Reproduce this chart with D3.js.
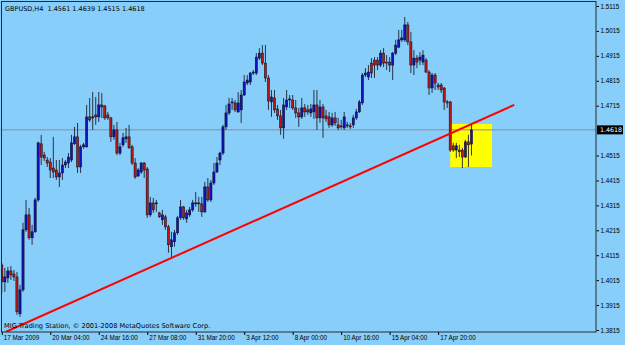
<!DOCTYPE html>
<html>
<head>
<meta charset="utf-8">
<script src="https://cdnjs.cloudflare.com/ajax/libs/d3/7.8.5/d3.min.js"></script>
<style>
  html, body { margin: 0; padding: 0; background: #87cefa; }
  svg { display: block; font-family: "DejaVu Sans", sans-serif; }
  .axis text { fill: #000; font-size: 6.3px; }
  .axis line { stroke: #000; }
  .axis path { display: none; }
</style>
</head>
<body>
<svg id="chart"></svg>
<script>
// GBPUSD H4 candles (bar 0 = 17 Mar 2009 12:00)
const symbol = 'GBPUSD,H4';
const copyright = 'MIG Trading Station, \u00a9 2001-2008 MetaQuotes Software Corp.';

const opens = [
  1.4076, 1.4008, 1.4024, 1.4052, 1.4040, 1.4028, 1.3880, 1.3976, 1.4217, 1.4277,
  1.4185, 1.4209, 1.4337, 1.4562, 1.4517, 1.4497, 1.4489, 1.4465, 1.4457, 1.4429,
  1.4445, 1.4477, 1.4485, 1.4497, 1.4562, 1.4590, 1.4469, 1.4550, 1.4550, 1.4670,
  1.4666, 1.4678, 1.4670, 1.4718, 1.4714, 1.4678, 1.4666, 1.4590, 1.4618, 1.4525,
  1.4558, 1.4582, 1.4590, 1.4550, 1.4485, 1.4433, 1.4449, 1.4485, 1.4461, 1.4277,
  1.4325, 1.4321, 1.4285, 1.4257, 1.4269, 1.4229, 1.4149, 1.4169, 1.4205, 1.4265,
  1.4309, 1.4261, 1.4277, 1.4297, 1.4321, 1.4325, 1.4321, 1.4289, 1.4389, 1.4337,
  1.4405, 1.4449, 1.4497, 1.4525, 1.4630, 1.4686, 1.4726, 1.4726, 1.4690, 1.4698,
  1.4758, 1.4806, 1.4810, 1.4846, 1.4846, 1.4906, 1.4926, 1.4886, 1.4826, 1.4730,
  1.4746, 1.4702, 1.4674, 1.4626, 1.4710, 1.4738, 1.4738, 1.4706, 1.4686, 1.4670,
  1.4706, 1.4698, 1.4686, 1.4690, 1.4718, 1.4666, 1.4710, 1.4674, 1.4670, 1.4638,
  1.4666, 1.4638, 1.4634, 1.4626, 1.4638, 1.4634, 1.4638, 1.4666, 1.4690, 1.4726,
  1.4838, 1.4830, 1.4886, 1.4898, 1.4898, 1.4878, 1.4926, 1.4890, 1.4890, 1.4878,
  1.4926, 1.4950, 1.4979, 1.4979, 1.5039, 1.4971, 1.4878, 1.4906, 1.4898, 1.4890,
  1.4898, 1.4850, 1.4786, 1.4838, 1.4798, 1.4798, 1.4786, 1.4730, 1.4730, 1.4554,
  1.4537, 1.4537, 1.4537, 1.4509, 1.4570, 1.4561
];
const highs = [
  1.4084, 1.4064, 1.4068, 1.4072, 1.4056, 1.4048, 1.3996, 1.4245, 1.4337, 1.4305,
  1.4237, 1.4345, 1.4570, 1.4598, 1.4530, 1.4509, 1.4505, 1.4590, 1.4497, 1.4497,
  1.4505, 1.4497, 1.4525, 1.4598, 1.4630, 1.4646, 1.4558, 1.4566, 1.4718, 1.4746,
  1.4770, 1.4750, 1.4770, 1.4766, 1.4718, 1.4690, 1.4670, 1.4638, 1.4650, 1.4566,
  1.4606, 1.4626, 1.4638, 1.4558, 1.4505, 1.4465, 1.4489, 1.4489, 1.4469, 1.4349,
  1.4345, 1.4337, 1.4289, 1.4297, 1.4277, 1.4237, 1.4209, 1.4217, 1.4273, 1.4337,
  1.4313, 1.4297, 1.4309, 1.4337, 1.4369, 1.4349, 1.4349, 1.4409, 1.4425, 1.4417,
  1.4485, 1.4509, 1.4530, 1.4638, 1.4718, 1.4746, 1.4746, 1.4738, 1.4770, 1.4778,
  1.4838, 1.4838, 1.4850, 1.4858, 1.4926, 1.4946, 1.4958, 1.4958, 1.4838, 1.4778,
  1.4778, 1.4718, 1.4698, 1.4746, 1.4778, 1.4758, 1.4758, 1.4738, 1.4706, 1.4746,
  1.4722, 1.4718, 1.4722, 1.4778, 1.4778, 1.4738, 1.4722, 1.4698, 1.4690, 1.4686,
  1.4690, 1.4666, 1.4658, 1.4690, 1.4650, 1.4646, 1.4678, 1.4702, 1.4738, 1.4846,
  1.4866, 1.4878, 1.4906, 1.4910, 1.4910, 1.4938, 1.4946, 1.4918, 1.4910, 1.4930,
  1.4979, 1.5019, 1.5019, 1.5071, 1.5051, 1.5011, 1.4938, 1.4918, 1.4930, 1.4938,
  1.4906, 1.4858, 1.4846, 1.4846, 1.4806, 1.4806, 1.4790, 1.4738, 1.4734, 1.4566,
  1.4566, 1.4558, 1.4546, 1.4578, 1.4598, 1.4639
];
const lows = [
  1.3964, 1.3968, 1.4004, 1.4016, 1.4012, 1.3876, 1.3868, 1.3968, 1.4209, 1.4177,
  1.4157, 1.4205, 1.4329, 1.4477, 1.4493, 1.4469, 1.4425, 1.4425, 1.4417, 1.4389,
  1.4417, 1.4465, 1.4465, 1.4489, 1.4558, 1.4445, 1.4445, 1.4542, 1.4546, 1.4650,
  1.4618, 1.4638, 1.4650, 1.4666, 1.4658, 1.4658, 1.4570, 1.4578, 1.4517, 1.4517,
  1.4550, 1.4566, 1.4542, 1.4477, 1.4421, 1.4429, 1.4441, 1.4425, 1.4265, 1.4269,
  1.4285, 1.4289, 1.4265, 1.4237, 1.4217, 1.4125, 1.4108, 1.4149, 1.4197, 1.4257,
  1.4257, 1.4245, 1.4269, 1.4289, 1.4309, 1.4289, 1.4269, 1.4285, 1.4329, 1.4329,
  1.4397, 1.4445, 1.4477, 1.4517, 1.4618, 1.4678, 1.4698, 1.4690, 1.4686, 1.4646,
  1.4754, 1.4798, 1.4798, 1.4838, 1.4838, 1.4898, 1.4878, 1.4810, 1.4698, 1.4670,
  1.4686, 1.4658, 1.4598, 1.4582, 1.4698, 1.4706, 1.4698, 1.4666, 1.4630, 1.4662,
  1.4670, 1.4678, 1.4670, 1.4662, 1.4618, 1.4646, 1.4586, 1.4650, 1.4626, 1.4630,
  1.4634, 1.4618, 1.4622, 1.4618, 1.4626, 1.4622, 1.4626, 1.4658, 1.4686, 1.4718,
  1.4830, 1.4818, 1.4826, 1.4826, 1.4858, 1.4870, 1.4870, 1.4858, 1.4850, 1.4818,
  1.4918, 1.4946, 1.4971, 1.4971, 1.4958, 1.4846, 1.4838, 1.4866, 1.4878, 1.4878,
  1.4846, 1.4758, 1.4766, 1.4778, 1.4778, 1.4766, 1.4698, 1.4706, 1.4530, 1.4530,
  1.4505, 1.4509, 1.4465, 1.4505, 1.4469, 1.4515
];
const closes = [
  1.4008, 1.4028, 1.4052, 1.4036, 1.4028, 1.3888, 1.3976, 1.4217, 1.4277, 1.4185,
  1.4209, 1.4337, 1.4566, 1.4509, 1.4505, 1.4485, 1.4457, 1.4449, 1.4429, 1.4445,
  1.4477, 1.4489, 1.4509, 1.4566, 1.4590, 1.4469, 1.4550, 1.4558, 1.4670, 1.4658,
  1.4670, 1.4670, 1.4718, 1.4710, 1.4666, 1.4666, 1.4590, 1.4618, 1.4525, 1.4550,
  1.4586, 1.4590, 1.4546, 1.4485, 1.4429, 1.4457, 1.4485, 1.4457, 1.4277, 1.4325,
  1.4297, 1.4325, 1.4269, 1.4277, 1.4229, 1.4157, 1.4177, 1.4205, 1.4265, 1.4309,
  1.4265, 1.4285, 1.4297, 1.4325, 1.4325, 1.4321, 1.4289, 1.4389, 1.4337, 1.4405,
  1.4449, 1.4485, 1.4525, 1.4630, 1.4686, 1.4722, 1.4730, 1.4698, 1.4726, 1.4758,
  1.4810, 1.4818, 1.4846, 1.4850, 1.4910, 1.4926, 1.4886, 1.4826, 1.4734, 1.4750,
  1.4698, 1.4674, 1.4626, 1.4718, 1.4738, 1.4742, 1.4706, 1.4686, 1.4670, 1.4706,
  1.4690, 1.4690, 1.4702, 1.4718, 1.4666, 1.4710, 1.4666, 1.4662, 1.4638, 1.4666,
  1.4646, 1.4626, 1.4630, 1.4670, 1.4634, 1.4630, 1.4666, 1.4690, 1.4730, 1.4838,
  1.4846, 1.4850, 1.4846, 1.4878, 1.4878, 1.4926, 1.4886, 1.4886, 1.4878, 1.4926,
  1.4958, 1.4979, 1.4987, 1.5039, 1.4971, 1.4878, 1.4906, 1.4890, 1.4910, 1.4918,
  1.4850, 1.4786, 1.4838, 1.4806, 1.4790, 1.4778, 1.4730, 1.4726, 1.4537, 1.4537,
  1.4554, 1.4530, 1.4509, 1.4570, 1.4558, 1.4618
];

// time scale labels (every 16 bars) and price scale labels
const timeTickBars = [0, 16, 32, 48, 64, 80, 96, 112, 128, 144];
const timeTickLabels = ['17 Mar 2009', '20 Mar 04:00', '24 Mar 16:00', '27 Mar 08:00', '31 Mar 20:00',
                        '3 Apr 12:00', '8 Apr 00:00', '10 Apr 16:00', '15 Apr 04:00', '17 Apr 20:00'];
const priceTicks = [1.5115, 1.5015, 1.4915, 1.4815, 1.4715, 1.4515, 1.4415,
                    1.4315, 1.4215, 1.4115, 1.4015, 1.3915, 1.3815];
const bidPrice = 1.4618;

// drawn objects: trend line and the yellow rectangle
const trendBars = [1.25, 169.1];
const trendPrices = [1.3807, 1.4718];
const boxBars = [148, 161.8];
const boxPrices = [1.4642, 1.4469];

class CandleChart {

  constructor(_config, _bars) {
    this.config = {
      parentElement: _config.parentElement,
      containerWidth: _config.containerWidth || 625,
      containerHeight: _config.containerHeight || 345,
      plot: _config.plot || {left: 2, top: 2, right: 596, bottom: 332},
      bullColor: _config.bullColor || '#1212b8',
      bearColor: _config.bearColor || '#bc1616'
    };
    this.bars = _bars;
    this.initVis();
  }

  initVis() {
    let vis = this;
    const p = vis.config.plot;

    vis.svg = d3.select(vis.config.parentElement)
        .attr('width', vis.config.containerWidth)
        .attr('height', vis.config.containerHeight);

    // bar index -> x, about 3 px per H4 bar
    vis.xScale = d3.scaleLinear()
        .domain([0, 196])
        .range([1.8, 595.7]);

    vis.yScale = d3.scaleLinear()
        .domain([1.3815, 1.5115])
        .range([330, 6]);

    vis.svg.append('rect')
        .attr('width', vis.config.containerWidth)
        .attr('height', vis.config.containerHeight)
        .attr('fill', '#87cefa');

    vis.svg.append('clipPath')
        .attr('id', 'plot-clip')
      .append('rect')
        .attr('x', p.left)
        .attr('y', p.top)
        .attr('width', p.right - p.left)
        .attr('height', p.bottom - p.top);

    vis.plot = vis.svg.append('g')
        .attr('clip-path', 'url(#plot-clip)');

    vis.renderVis();
  }

  renderVis() {
    let vis = this;
    const p = vis.config.plot;
    const fmt = d3.format('.4f');

    // yellow rectangle (behind the candles)
    vis.plot.append('rect')
        .attr('x', vis.xScale(boxBars[0]))
        .attr('y', vis.yScale(boxPrices[0]))
        .attr('width', vis.xScale(boxBars[1]) - vis.xScale(boxBars[0]))
        .attr('height', vis.yScale(boxPrices[1]) - vis.yScale(boxPrices[0]))
        .attr('fill', '#ffff00');

    // bid line
    vis.plot.append('line')
        .attr('x1', p.left).attr('x2', p.right)
        .attr('y1', vis.yScale(bidPrice)).attr('y2', vis.yScale(bidPrice))
        .attr('stroke', '#8e8a96')
        .attr('stroke-width', 1);

    // wicks
    vis.plot.append('g')
      .selectAll('line')
      .data(vis.bars)
      .join('line')
        .attr('x1', d => vis.xScale(d.i))
        .attr('x2', d => vis.xScale(d.i))
        .attr('y1', d => vis.yScale(d.high))
        .attr('y2', d => vis.yScale(d.low))
        .attr('stroke', '#1e2230')
        .attr('stroke-width', 0.9);

    // bodies
    vis.plot.append('g')
      .selectAll('rect')
      .data(vis.bars)
      .join('rect')
        .attr('x', d => vis.xScale(d.i) - 1.1)
        .attr('y', d => vis.yScale(Math.max(d.open, d.close)))
        .attr('width', 2.2)
        .attr('height', d => Math.max(1, Math.abs(vis.yScale(d.open) - vis.yScale(d.close))))
        .attr('fill', d => d.close >= d.open ? vis.config.bullColor : vis.config.bearColor)
        .attr('stroke', '#0c0c18')
        .attr('stroke-width', 0.5);

    // trend line
    vis.plot.append('line')
        .attr('x1', vis.xScale(trendBars[0]))
        .attr('y1', vis.yScale(trendPrices[0]))
        .attr('x2', vis.xScale(trendBars[1]))
        .attr('y2', vis.yScale(trendPrices[1]))
        .attr('stroke', '#ff0000')
        .attr('stroke-width', 2);

    // frame
    vis.svg.append('rect')
        .attr('x', p.left - 0.5)
        .attr('y', p.top - 0.5)
        .attr('width', p.right - p.left + 0.5)
        .attr('height', p.bottom - p.top + 0.5)
        .attr('fill', 'none')
        .attr('stroke', '#2a2a2a')
        .attr('stroke-width', 1);

    // price scale
    vis.yAxisG = vis.svg.append('g')
        .attr('class', 'axis y-axis')
        .attr('transform', `translate(${p.right + 0.5},0)`)
        .call(d3.axisRight(vis.yScale)
            .tickValues(priceTicks)
            .tickSize(2.5)
            .tickPadding(1.5)
            .tickFormat(fmt));

    // time scale
    vis.xAxisG = vis.svg.append('g')
        .attr('class', 'axis x-axis')
        .attr('transform', `translate(0,${p.bottom})`)
        .call(d3.axisBottom(vis.xScale)
            .tickValues(timeTickBars)
            .tickSize(3)
            .tickFormat((d, i) => timeTickLabels[i]));

    vis.xAxisG.selectAll('text')
        .attr('text-anchor', 'start')
        .attr('dx', 1.5)
        .attr('y', 4);

    // current price tag
    const bidY = vis.yScale(bidPrice);
    vis.svg.append('rect')
        .attr('x', p.right + 1)
        .attr('y', bidY - 4.5)
        .attr('width', 26)
        .attr('height', 9)
        .attr('fill', '#000');
    vis.svg.append('text')
        .attr('x', p.right + 4)
        .attr('y', bidY + 2.3)
        .attr('fill', '#fff')
        .style('font-size', '6.3px')
        .text(fmt(bidPrice));

    // header with last bar OHLC
    const last = vis.bars[vis.bars.length - 1];
    vis.svg.append('text')
        .attr('x', 5)
        .attr('y', 10.5)
        .attr('fill', '#000')
        .style('font-size', '6.5px')
        .style('white-space', 'pre')
        .text(`${symbol}  ${fmt(last.open)} ${fmt(last.high)} ${fmt(last.low)} ${fmt(last.close)}`);

    vis.svg.append('text')
        .attr('x', 4)
        .attr('y', 327.5)
        .attr('fill', '#000')
        .style('font-size', '6.6px')
        .text(copyright);
  }
}

const bars = opens.map((o, i) => ({
  i: i, open: o, high: highs[i], low: lows[i], close: closes[i]
}));

new CandleChart({parentElement: '#chart'}, bars);
</script>
</body>
</html>
